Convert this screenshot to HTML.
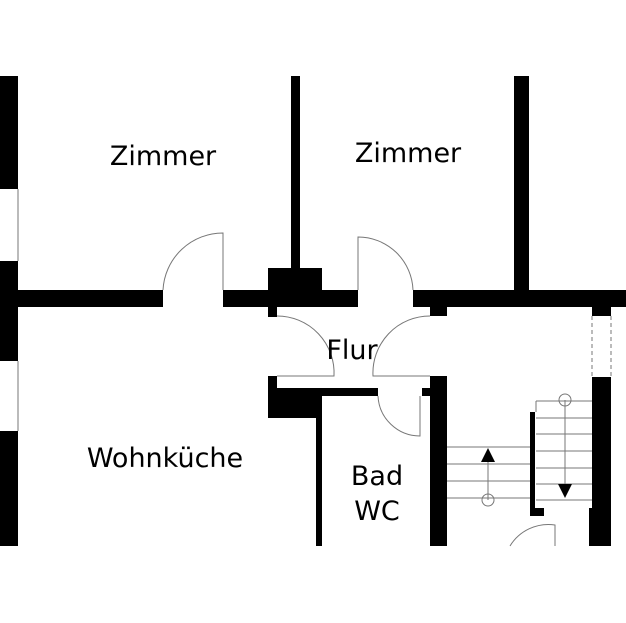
<!DOCTYPE html><html><head><style>body{margin:0;background:#fff}svg{display:block}</style></head><body>
<svg width="626" height="623" xmlns="http://www.w3.org/2000/svg" font-family="DejaVu Sans, sans-serif" font-size="27">
<rect width="626" height="623" fill="#fff"/>
<g fill="#000">
<rect x="0" y="76" width="18" height="113"/><rect x="0" y="261" width="18" height="100"/><rect x="0" y="431" width="18" height="115"/>
<rect x="18" y="290" width="145" height="17"/>
<rect x="223" y="290" width="135" height="17"/>
<rect x="291" y="76" width="9" height="200"/>
<rect x="268" y="268" width="54" height="25"/>
<rect x="268" y="290" width="9" height="27"/>
<rect x="413" y="290" width="213" height="17"/>
<rect x="430" y="300" width="17" height="16"/>
<rect x="514" y="76" width="15" height="220"/>
<rect x="592" y="300" width="19" height="16"/>
<rect x="592" y="377" width="19" height="169"/>
<rect x="268" y="376" width="9" height="42"/>
<rect x="268" y="388" width="110" height="8"/>
<rect x="268" y="388" width="54" height="30"/>
<rect x="316" y="396" width="6" height="150"/>
<rect x="430" y="376" width="17" height="170"/>
<rect x="422" y="388" width="8" height="8"/>
<rect x="530" y="412" width="5" height="104"/>
<rect x="530" y="508" width="14" height="8"/>
<rect x="589" y="508" width="3" height="38"/>
</g>
<g fill="none" stroke="#777" stroke-width="1">
<line x1="18" y1="189" x2="18" y2="261"/><line x1="18" y1="361" x2="18" y2="431"/>
<path d="M163 290 A60 60 0 0 1 223 233 V290"/>
<path d="M358 290 V237 A55 55 0 0 1 413 290"/>
<path d="M277 316 A57 57 0 0 1 334 376 H277"/>
<path d="M430 316 A57 57 0 0 0 373 376 H430"/>
<path d="M378 396 A42 42 0 0 0 420 436 V396"/>
<path d="M592 316 V377 M611 316 V377" stroke-dasharray="4,3"/>
<path d="M447 447 H530 M447 464 H530 M447 481 H530 M447 498 H530"/>
<path d="M536 401 V412 M536 401 H592 M536 418 H592 M536 434 H592 M536 451 H592 M536 468 H592 M536 484 H592 M536 500 H592"/>
<circle cx="488" cy="500" r="6"/><line x1="488" y1="458" x2="488" y2="500"/>
<circle cx="565" cy="400" r="6"/><line x1="565" y1="400" x2="565" y2="490"/>
<path d="M555 546 V525 A45 45 0 0 0 510 546"/>
</g>
<path d="M481 462 L488 448 L495 462Z" fill="#000"/>
<path d="M558 484 L572 484 L565 498Z" fill="#000"/>
<g fill="#000">
<text x="163" y="165" text-anchor="middle">Zimmer</text>
<text x="408" y="162" text-anchor="middle">Zimmer</text>
<text x="352" y="359" text-anchor="middle">Flur</text>
<text x="165" y="467" text-anchor="middle">Wohnküche</text>
<text x="377" y="485" text-anchor="middle">Bad</text>
<text x="377" y="520" text-anchor="middle">WC</text>
</g>
</svg></body></html>
